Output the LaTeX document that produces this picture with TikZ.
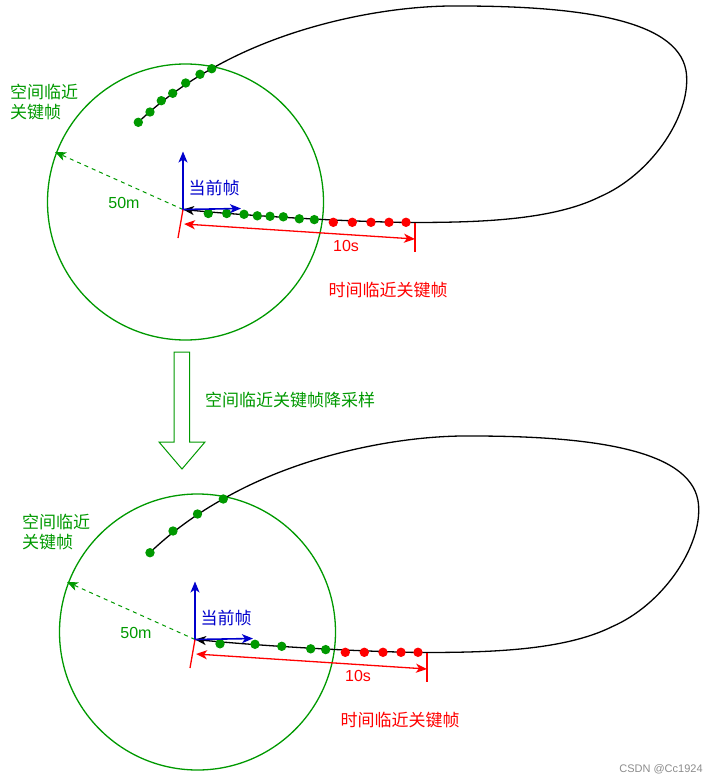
\documentclass[tikz,border=0pt]{standalone}
\usepackage{fontspec}
\setmainfont{Liberation Sans}
\newfontfamily\cjk{Noto Sans CJK SC}
\usetikzlibrary{arrows.meta}

\definecolor{kfgreen}{RGB}{0,153,0}
\definecolor{kfblue}{RGB}{0,0,204}
\definecolor{kfred}{RGB}{255,0,0}

\tikzset{
  kf/.style={circle,fill=#1,draw=none,inner sep=0pt,minimum size=9.4pt},
  lbl/.style={font=\cjk\fontsize{17}{20.5}\selectfont,inner sep=0pt},
  num/.style={font=\fontsize{16}{19}\selectfont,inner sep=0pt},
  tip/.style={-{Stealth[length=11pt,width=9pt,inset=3pt]}},
}

% one map: #1 = spatial keyframes on the first leg, #2 = spatial keyframes near the current frame
\newcommand{\keyframemap}[2]{%
  \coordinate (cur) at (183,209.5);
  \coordinate (rim) at (55,152);
  \coordinate (up) at (183,151.5);
  \coordinate (fwd) at (241,208.5);
  \coordinate (tick) at (178,238);
  \coordinate (spanl) at (184,224);
  \coordinate (spanr) at (415,239);
  \coordinate (endt) at (415,223);
  \coordinate (endb) at (415,252);
  \draw[kfgreen,line width=1.3pt] (185.5,202) circle[radius=138pt];
  \draw[line width=1.3pt,tip] (138,122.5) .. controls (160,101.5) and (185,83.5) .. (212,68.5)
    .. controls (290,24) and (390,5) .. (460,6)
    .. controls (600,6) and (688,25) .. (686.7,80)
    .. controls (687,120) and (650,175) .. (600,196.7)
    .. controls (550,221.7) and (470,222.5) .. (406,222.5)
    .. controls (330,221) and (240,215) .. (cur);
  \foreach \p in {#1} \node[kf=kfgreen] at \p {};
  \foreach \p in {#2} \node[kf=kfgreen] at \p {};
  \foreach \x in {333.3,352.3,371,389,406} \node[kf=kfred] at (\x,222.3) {};
  \draw[kfgreen,line width=1pt,dash pattern=on 4pt off 4pt,tip] (cur) -- (rim);
  \draw[kfblue,line width=1.6pt,tip] (cur) -- (up);
  \draw[kfblue,line width=1.6pt,tip] (cur) -- (fwd);
  \draw[kfred,line width=1.3pt] (cur) -- (tick);
  \draw[kfred,line width=1.3pt,{Stealth[length=11pt,width=9pt,inset=3pt]}-{Stealth[length=11pt,width=9pt,inset=3pt]}] (spanl) -- (spanr);
  \draw[kfred,line width=1.3pt] (endt) -- (endb);
  \node[lbl,kfgreen,align=left,anchor=west] (near) at (10,102) {空间临近\\关键帧};
  \node[lbl,kfblue] (curlbl) at (214,188.5) {当前帧};
  \node[num,kfgreen] (dist) at (124,202.5) {50m};
  \node[num,kfred] (span) at (346,246) {10s};
  \node[lbl,kfred] (tlbl) at (388,290) {时间临近关键帧};
}

\begin{document}
\begin{tikzpicture}[x=1pt,y=-1pt]
  \useasboundingbox (0,0) rectangle (718,784);

  % before downsampling
  \begin{scope}[name prefix=top-]
    \keyframemap{(138.3,122.3),(150,112),(161.3,100.7),(172.7,93.3),(185.7,83),(200,74.3),(211.7,68.7)}
                {(208.3,213.5),(226.7,213.5),(244,214.3),(257.3,215.8),(270,216.3),(283.3,216.8),(299.3,218.8),(314.3,219.6)}
  \end{scope}

  % downsampling step
  \draw[kfgreen,line width=1pt,fill=white] (174,352) -- (189.5,352) -- (189.5,442) -- (205,442)
    -- (182,469) -- (159,442) -- (174,442) -- cycle;
  \node[lbl,kfgreen] (down) at (290,400) {空间临近关键帧降采样};

  % after downsampling
  \begin{scope}[shift={(12,430)},name prefix=bot-]
    \keyframemap{(138,122.7),(161,101),(185.5,84),(211.3,69)}
                {(208,213.8),(243,214.3),(269.7,216.3),(298.7,218.8),(313.7,219.6)}
  \end{scope}

  \node[font=\fontsize{11}{13}\selectfont,black!45] (wm) at (661,769) {CSDN @Cc1924};
\end{tikzpicture}
\end{document}
